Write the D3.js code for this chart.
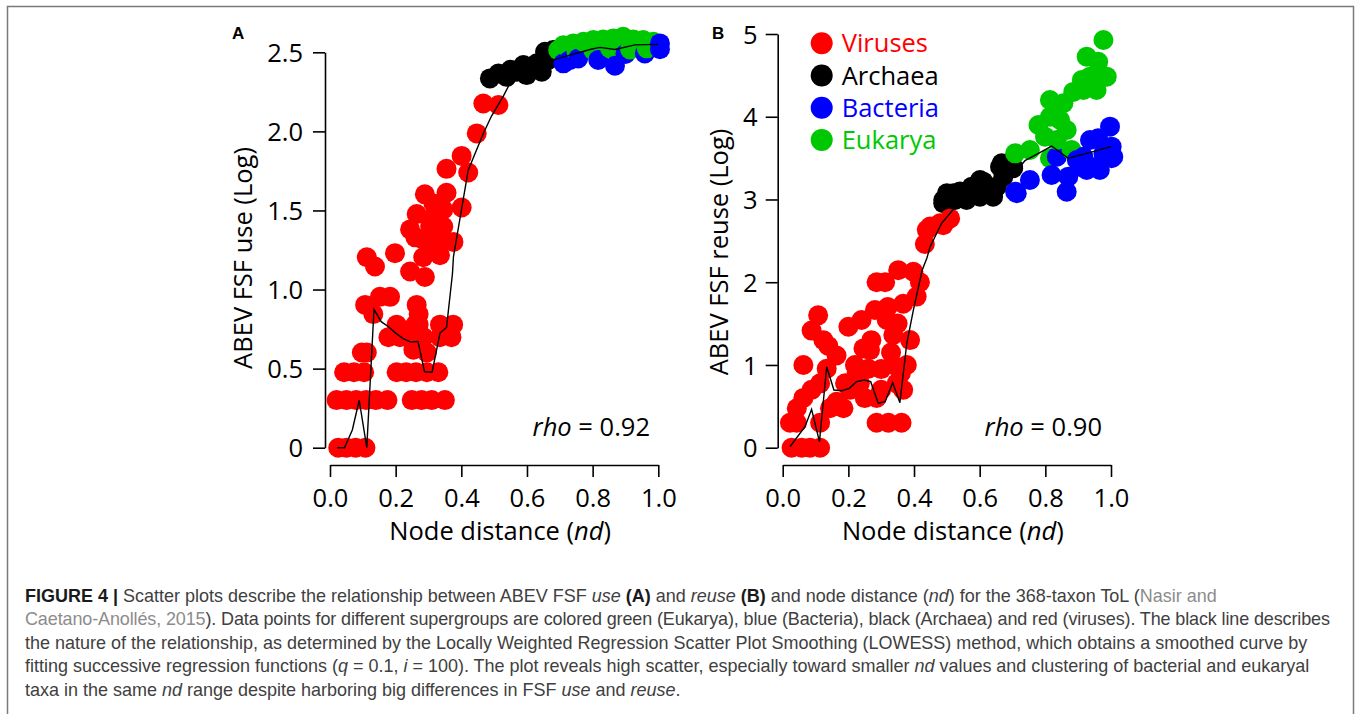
<!DOCTYPE html>
<html>
<head>
<meta charset="utf-8">
<script src="https://cdn.jsdelivr.net/npm/d3@7"></script>
<style>
body { margin: 0; background: #fff; }
svg text { font-family: "Open Sans", sans-serif; }
svg text.cap { font-family: "Liberation Sans", Arial, sans-serif; }
</style>
</head>
<body>
<svg id="fig" width="1357" height="714"></svg>
<script>
// supergroups and their colours
var groups = ['Viruses', 'Archaea', 'Bacteria', 'Eukarya'];
var groupColors = ['#ff0000', '#000000', '#0000ff', '#00c800'];

var xTicks = [0, 0.2, 0.4, 0.6, 0.8, 1.0];
var xTickLabels = ['0.0', '0.2', '0.4', '0.6', '0.8', '1.0'];
var useTicks = [0, 0.5, 1, 1.5, 2, 2.5];
var useTickLabels = ['0', '0.5', '1.0', '1.5', '2.0', '2.5'];
var reuseTicks = [0, 1, 2, 3, 4, 5];
var reuseTickLabels = ['0', '1', '2', '3', '4', '5'];

// panel A: [nd, log FSF use]
var useViruses = [[0.025,0],[0.05,0],[0.078,0],[0.108,0],
  [0.02,0.301],[0.05,0.301],[0.08,0.301],[0.11,0.301],[0.14,0.301],[0.175,0.301],[0.249,0.301],[0.279,0.301],[0.31,0.301],[0.35,0.301],
  [0.043,0.477],[0.073,0.477],[0.104,0.477],[0.203,0.477],[0.232,0.477],[0.262,0.477],[0.295,0.477],[0.33,0.477],
  [0.097,0.602],[0.112,0.602],[0.295,0.602],[0.254,0.62],
  [0.178,0.699],[0.213,0.699],[0.24,0.699],[0.285,0.699],[0.335,0.699],[0.37,0.699],
  [0.203,0.778],[0.26,0.778],[0.27,0.778],[0.335,0.778],[0.375,0.778],
  [0.132,0.845],[0.27,0.845],[0.107,0.903],[0.264,0.903],[0.152,0.954],[0.183,0.954],
  [0.244,1.114],[0.289,1.079],[0.137,1.146],[0.112,1.204],[0.198,1.23],[0.284,1.204],[0.335,1.217],[0.3,1.25],
  [0.295,1.301],[0.325,1.301],[0.376,1.301],[0.28,1.32],[0.26,1.33],[0.33,1.35],
  [0.244,1.38],[0.305,1.398],[0.345,1.398],[0.31,1.45],
  [0.264,1.477],[0.315,1.544],[0.345,1.505],[0.401,1.519],[0.289,1.602],[0.355,1.612],
  [0.355,1.763],[0.421,1.74],[0.401,1.845],[0.447,1.987],[0.467,2.176],[0.513,2.167]];
var useArchaea = [[0.487,2.335],[0.513,2.366],[0.538,2.345],[0.55,2.39],[0.569,2.377],[0.589,2.419],[0.599,2.356],
  [0.619,2.408],[0.63,2.43],[0.645,2.377],[0.655,2.503],[0.665,2.451],[0.68,2.514]];
var useBacteria = [[0.711,2.43],[0.73,2.45],[0.756,2.461],[0.817,2.451],[0.868,2.415],[0.9,2.49],[0.959,2.493],[1.005,2.52],[1.005,2.556]];
var useEukarya = [[0.695,2.514],[0.711,2.545],[0.741,2.556],[0.751,2.503],[0.772,2.566],[0.802,2.577],[0.802,2.514],[0.832,2.581],
  [0.853,2.525],[0.863,2.588],[0.893,2.598],[0.914,2.518],[0.924,2.581],[0.954,2.577],[0.965,2.525],[0.985,2.566]];
var useLowess = [[0.022,0],[0.044,0],[0.068,0.112],[0.089,0.3],[0.112,0],[0.134,0.875],[0.156,0.797],[0.178,0.765],
  [0.201,0.723],[0.223,0.69],[0.246,0.668],[0.268,0.672],[0.288,0.48],[0.311,0.477],[0.335,0.725],[0.355,0.761],
  [0.373,1.1],[0.376,1.207],[0.421,1.755],[0.467,1.987],[0.492,2.097],[0.528,2.223],[0.548,2.303],[0.579,2.345],
  [0.63,2.367],[0.685,2.455],[0.731,2.482],[0.792,2.518],[0.822,2.531],[0.868,2.518],[0.929,2.547],[1.0,2.55]];

// panel B: [nd, log FSF reuse]
var reuseViruses = [[0.027,0],[0.058,0],[0.083,0],[0.114,0],
  [0.022,0.301],[0.043,0.301],[0.114,0.301],[0.286,0.301],[0.322,0.301],[0.362,0.301],
  [0.043,0.477],[0.144,0.477],[0.185,0.477],[0.164,0.556],[0.25,0.6],
  [0.063,0.602],[0.088,0.699],[0.114,0.778],[0.19,0.778],[0.205,0.699],[0.235,0.778],[0.286,0.602],[0.3,0.7],[0.367,0.699],[0.347,0.778],
  [0.063,1.0],[0.134,0.954],[0.164,1.114],[0.225,0.903],[0.22,1.0],[0.261,0.954],[0.3,0.95],[0.36,0.9],[0.378,1.0],[0.337,1.0],[0.33,1.15],
  [0.088,1.415],[0.108,1.6],[0.124,1.3],[0.139,1.23],[0.2,1.462],[0.246,1.2],[0.24,1.544],[0.266,1.18],[0.27,1.3],
  [0.281,1.663],[0.317,1.544],[0.32,1.7],[0.35,1.5],[0.337,1.362],[0.388,1.301],[0.367,1.74],[0.408,1.826],
  [0.286,2.0],[0.312,2.0],[0.352,2.146],[0.398,2.127],[0.418,2.0],
  [0.433,2.462],[0.439,2.633],[0.449,2.672],[0.479,2.712],[0.489,2.69],[0.51,2.771]];
var reuseArchaea = [[0.489,2.954],[0.489,2.994],[0.5,3.075],[0.52,3.075],[0.525,2.994],[0.54,3.095],[0.56,2.994],[0.576,3.155],
  [0.591,3.075],[0.601,3.034],[0.601,3.235],[0.611,3.215],[0.621,3.095],[0.641,3.034],[0.652,3.155],[0.662,3.396],
  [0.667,3.437],[0.672,3.276],[0.702,3.377],[0.702,3.396]];
var reuseBacteria = [[0.708,3.094],[0.713,3.075],[0.753,3.235],[0.819,3.296],[0.835,3.517],[0.865,3.094],[0.87,3.276],[0.896,3.477],
  [0.906,3.396],[0.916,3.517],[0.926,3.356],[0.936,3.719],[0.956,3.396],[0.961,3.739],[0.966,3.356],[0.977,3.558],
  [0.997,3.88],[1.002,3.638],[1.002,3.498],[1.007,3.517]];
var reuseEukarya = [[0.708,3.558],[0.753,3.598],[0.779,3.9],[0.799,3.759],[0.814,4.202],[0.814,4.0],[0.814,3.498],[0.835,3.719],
  [0.845,3.961],[0.855,4.163],[0.865,3.84],[0.88,3.598],[0.885,4.3],[0.911,4.444],[0.916,4.323],[0.926,4.726],
  [0.936,4.484],[0.956,4.323],[0.961,4.665],[0.977,4.927],[0.987,4.484]];
var reuseLowess = [[0.022,0.012],[0.068,0.254],[0.088,0.464],[0.112,0.073],[0.134,0.979],[0.156,0.697],[0.18,0.689],
  [0.203,0.718],[0.225,0.798],[0.248,0.818],[0.268,0.798],[0.291,0.537],[0.312,0.556],[0.335,0.786],[0.357,0.544],
  [0.378,1.262],[0.398,1.664],[0.425,2.148],[0.439,2.289],[0.449,2.43],[0.484,2.712],[0.52,2.881],[0.53,2.913],
  [0.58,3.0],[0.63,3.08],[0.68,3.2],[0.738,3.469],[0.779,3.558],[0.819,3.646],[0.87,3.498],[0.926,3.558],[1.0,3.638]];

var svg = d3.select('#fig');

// frame round the figure
svg.append('rect')
  .attr('x', 7.5).attr('y', 6.5)
  .attr('width', 1346).attr('height', 730)
  .attr('fill', 'none')
  .attr('stroke', '#7a7a7a')
  .attr('stroke-width', 1.5);

function drawPanel(p) {
  var x = d3.scaleLinear().domain([0, 1]).range([p.left, p.left + 328.3]);
  var y = d3.scaleLinear().domain([0, p.ymax]).range([447.7, p.top]);
  var g = svg.append('g');

  var yAxis = d3.axisLeft(y)
    .tickValues(p.yTicks)
    .tickFormat(function (d, i) { return p.yLabels[i]; })
    .tickSize(12).tickSizeOuter(0).tickPadding(p.yPad);
  var ya = g.append('g')
    .attr('transform', 'translate(' + (p.left - 5) + ',0)')
    .call(yAxis);

  var xAxis = d3.axisBottom(x)
    .tickValues(xTicks)
    .tickFormat(function (d, i) { return xTickLabels[i]; })
    .tickSize(12).tickSizeOuter(0);
  var xa = g.append('g')
    .attr('transform', 'translate(0,465)')
    .call(xAxis);
  xa.selectAll('text').attr('y', 41.7).attr('dy', null);
  ya.selectAll('text').attr('dy', '0.36em');

  [ya, xa].forEach(function (a) {
    a.attr('font-family', null).attr('font-size', null);
    a.selectAll('path, line').attr('stroke', '#000').attr('stroke-width', 1.6);
    a.selectAll('text').attr('fill', '#000').style('font-size', '25.5px');
  });

  // points, drawn in nd order across supergroups
  var pts = [];
  p.series.forEach(function (s, i) {
    s.forEach(function (d) { pts.push({ nd: d[0], v: d[1], c: groupColors[i] }); });
  });
  pts.sort(function (a, b) { return a.nd - b.nd; });
  g.selectAll('.pt')
    .data(pts).enter()
    .append('circle')
    .attr('class', 'pt')
    .attr('cx', function (d) { return x(d.nd); })
    .attr('cy', function (d) { return y(d.v); })
    .attr('r', 10)
    .attr('fill', function (d) { return d.c; });

  g.append('path')
    .datum(p.lowess)
    .attr('d', d3.line().x(function (d) { return x(d[0]); }).y(function (d) { return y(d[1]); }))
    .attr('fill', 'none')
    .attr('stroke', '#000')
    .attr('stroke-width', 1.4);

  g.append('text')
    .attr('transform', 'translate(' + p.ytitleX + ',' + p.ytitleY + ') rotate(-90)')
    .attr('text-anchor', 'middle')
    .style('font-size', '25.5px')
    .text(p.ytitle);

  var xt = g.append('text')
    .attr('x', (x(0) + x(1)) / 2 + 6).attr('y', 540)
    .attr('text-anchor', 'middle')
    .style('font-size', '25.5px');
  xt.append('tspan').text('Node distance (');
  xt.append('tspan').style('font-style', 'italic').text('nd');
  xt.append('tspan').text(')');

  var rt = g.append('text')
    .attr('x', p.rhoX).attr('y', 436)
    .attr('text-anchor', 'end')
    .style('font-size', '25.5px');
  rt.append('tspan').style('font-style', 'italic').text('rho');
  rt.append('tspan').text(' = ' + p.rho);

  g.append('text')
    .attr('x', p.letterX).attr('y', 38.5)
    .style('font-family', '"Liberation Sans", Arial, sans-serif')
    .style('font-weight', 'bold')
    .style('font-size', '17px')
    .text(p.letter);

  return x;
}

drawPanel({
  left: 330, top: 52.3, ymax: 2.5, yTicks: useTicks, yLabels: useTickLabels, yPad: 10,
  series: [useViruses, useArchaea, useBacteria, useEukarya], lowess: useLowess,
  ytitle: 'ABEV FSF use (Log)', ytitleX: 252, ytitleY: 258,
  rhoX: 650, rho: '0.92', letter: 'A', letterX: 232
});
var xB = drawPanel({
  left: 782.7, top: 34, ymax: 5, yTicks: reuseTicks, yLabels: reuseTickLabels, yPad: 8,
  series: [reuseViruses, reuseArchaea, reuseBacteria, reuseEukarya], lowess: reuseLowess,
  ytitle: 'ABEV FSF reuse (Log)', ytitleX: 728, ytitleY: 252,
  rhoX: 1102, rho: '0.90', letter: 'B', letterX: 712
});

// legend in panel B
var legend = svg.append('g');
groups.forEach(function (name, i) {
  var ly = 43.3 + i * 32.2;
  legend.append('circle')
    .attr('cx', xB(0) + 39).attr('cy', ly).attr('r', 11)
    .attr('fill', groupColors[i]);
  legend.append('text')
    .attr('x', xB(0) + 59).attr('y', ly + 9)
    .attr('fill', groupColors[i])
    .style('font-size', '25.5px')
    .text(name);
});

// caption
var captionLines = [
  [['FIGURE 4 | ', 'b'], ['Scatter plots describe the relationship between ABEV FSF '], ['use', 'i'], [' '], ['(A)', 'b'],
   [' and '], ['reuse', 'i'], [' '], ['(B)', 'b'], [' and node distance ('], ['nd', 'i'], [') for the 368-taxon ToL ('], ['Nasir and', 'l']],
  [['Caetano-Anollés, 2015', 'l'], ['). Data points for different supergroups are colored green (Eukarya), blue (Bacteria), black (Archaea) and red (viruses). The black line describes']],
  [['the nature of the relationship, as determined by the Locally Weighted Regression Scatter Plot Smoothing (LOWESS) method, which obtains a smoothed curve by']],
  [['fitting successive regression functions ('], ['q', 'i'], [' = 0.1, '], ['i', 'i'], [' = 100). The plot reveals high scatter, especially toward smaller '],
   ['nd', 'i'], [' values and clustering of bacterial and eukaryal']],
  [['taxa in the same '], ['nd', 'i'], [' range despite harboring big differences in FSF '], ['use', 'i'], [' and '], ['reuse', 'i'], ['.']]
];
var cap = svg.append('g').attr('fill', '#404040');
var capTexts = captionLines.map(function (line, li) {
  var t = cap.append('text')
    .attr('class', 'cap')
    .attr('x', 25).attr('y', 602 + li * 23.4)
    .style('font-size', '16px');
  line.forEach(function (seg) {
    var s = t.append('tspan').text(seg[0]);
    if (seg[1] === 'b') s.style('font-weight', 'bold').attr('fill', '#1a1a1a');
    if (seg[1] === 'i') s.style('font-style', 'italic');
    if (seg[1] === 'l') s.attr('fill', '#8c8c8c');
  });
  return t;
});
// fit the caption width to the reference (line 4 runs to about x = 1310)
var w4 = capTexts[3].node().getComputedTextLength();
cap.selectAll('text.cap').style('font-size', (16 * 1285 / w4).toFixed(2) + 'px');
// the second line ends a little short of the frame in the reference
capTexts[1].attr('textLength', 1305).attr('lengthAdjust', 'spacing');
</script>
</body>
</html>
